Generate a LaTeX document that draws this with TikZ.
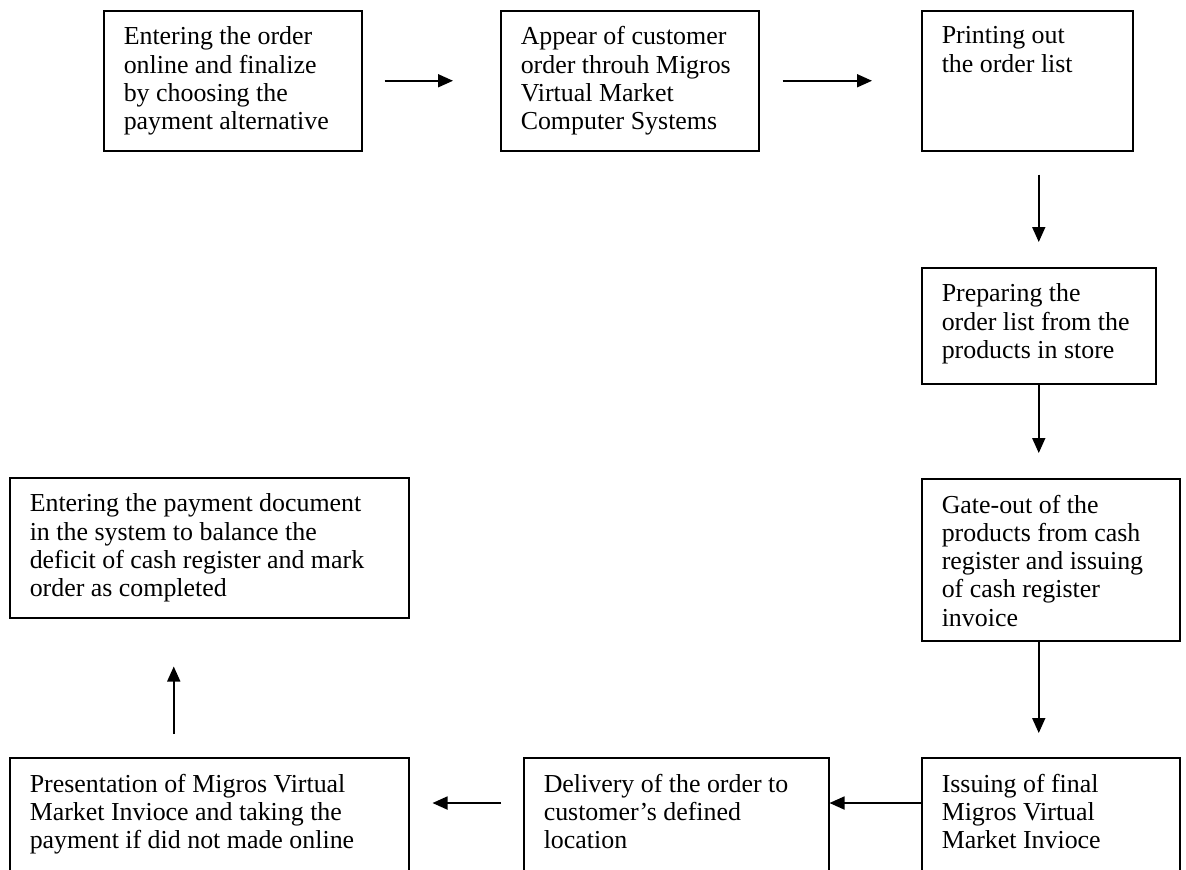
\documentclass[tikz,border=0pt]{standalone}
\usepackage{fontspec}
\setmainfont{Liberation Serif}
\usetikzlibrary{arrows.meta,calc}
\newcommand{\steptxt}[3]{\parbox[t][#2][t]{#1}{#3}}
\tikzset{
  stepbox/.style={
    draw=black, line width=0.75pt, anchor=north west,
    inner xsep=10pt, inner ysep=8pt,
    font=\fontsize{12.95pt}{14.15pt}\selectfont
  },
  flow/.style={
    line width=0.85pt, -{Triangle[length=7.5pt,width=6.5pt]}
  },
}

\begin{document}
\begin{tikzpicture}[x=0.5pt,y=-0.5pt]
  \useasboundingbox (0,0) rectangle (1186,869);
  \clip (0,0) rectangle (1186,869);

  % top row
  \node[stepbox] (b1) at (103,10)
    {\steptxt{109pt}{54pt}{Entering the order\\ online and finalize\\ by choosing the\\ payment alternative}};
  \node[stepbox] (b2) at (500,10)
    {\steptxt{109pt}{54pt}{Appear of customer\\ order throuh Migros\\ Virtual Market\\ Computer Systems}};
  \node[stepbox] (b3) at (921,10)
    {\steptxt{85.5pt}{54pt}{Printing out\\ the order list}};

  % right column
  \node[stepbox] (b4) at (921,267)
    {\steptxt{97pt}{42pt}{Preparing the\\ order list from the\\ products in store}};
  \node[stepbox] (b5) at (921,478)
    {\steptxt{109pt}{65pt}{Gate-out of the\\ products from cash\\ register and issuing\\ of cash register\\ invoice}};

  % bottom row
  \node[stepbox] (b6) at (921,757)
    {\steptxt{109pt}{54pt}{Issuing of final\\ Migros Virtual\\ Market Invioce}};
  \node[stepbox] (b7) at (523,757)
    {\steptxt{132.5pt}{54pt}{Delivery of the order to\\ customer’s defined\\ location}};
  \node[stepbox] (b8) at (9,757)
    {\steptxt{179.5pt}{54pt}{Presentation of Migros Virtual\\ Market Invioce and taking the\\ payment if did not made online}};

  % left column
  \node[stepbox] (b9) at (9,477)
    {\steptxt{179.5pt}{54pt}{Entering the payment document\\ in the system to balance the\\ deficit of cash register and mark\\ order as completed}};

  \coordinate (m6) at ([yshift=-23pt]b6.north west);
  \coordinate (m8) at ([xshift=-17.75pt]b8.north);

  \draw[flow, shorten <=11pt, shorten >=23.5pt] (b1.east) -- (b2.west);
  \draw[flow, shorten <=11.5pt, shorten >=24.5pt] (b2.east) -- (b3.west);
  \draw[flow, shorten <=11.5pt, shorten >=12.5pt] (b4.north |- b3.south) -- (b4.north);
  \draw[flow, shorten >=12.5pt] (b4.south) -- (b4.south |- b5.north);
  \draw[flow, shorten >=12pt] (b4.south |- b5.south) -- (b4.south |- b6.north);
  \draw[flow] (m6) -- (m6 -| b7.east);
  \draw[flow, shorten <=11pt, shorten >=11.5pt] (m6 -| b7.west) -- (m6 -| b8.east);
  \draw[flow, shorten <=11.5pt, shorten >=24pt] (m8) -- (m8 |- b9.south);
\end{tikzpicture}
\end{document}
